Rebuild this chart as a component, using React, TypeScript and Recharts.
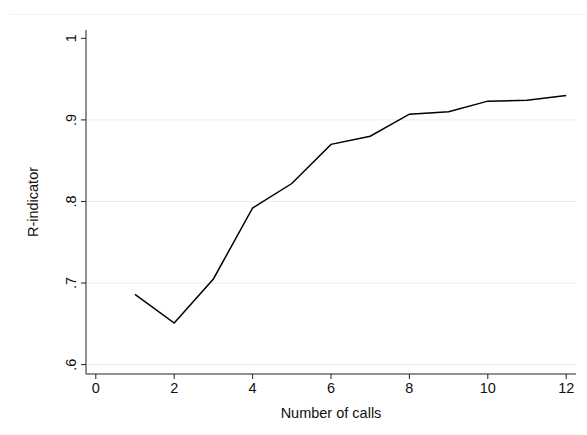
import { LineChart, Line, XAxis, YAxis, ReferenceLine } from "recharts";

const calls = [1, 2, 3, 4, 5, 6, 7, 8, 9, 10, 11, 12];
const rIndicator = [0.686, 0.651, 0.705, 0.792, 0.822, 0.87, 0.88, 0.907, 0.91, 0.923, 0.924, 0.93];
const xTicks = [0, 2, 4, 6, 8, 10, 12];
const yTicks = [0.6, 0.7, 0.8, 0.9, 1];
const gridValues = [0.6, 0.7, 0.8, 0.9];

const data = calls.map((c, i) => ({ calls: c, r: rIndicator[i] }));

const font = "'Liberation Sans', Arial, sans-serif";
const fontSize = 14.5;

function fmtY(v: any) {
	const n = Number(v);
	if (Math.abs(n - 1) < 1e-6) return "1";
	return "." + Math.round(n * 10);
}

function YTick(props: any) {
	const { x, y, payload } = props;
	return (
		<text
			x={x}
			y={y}
			transform={`rotate(-90, ${x}, ${y})`}
			textAnchor="middle"
			fontFamily={font}
			fontSize={fontSize}
			fill="#111"
		>
			{fmtY(payload.value)}
		</text>
	);
}

export default function App() {
	return (
		<div style={{ position: "absolute", left: 0, top: 0, width: 587, height: 435, background: "#fff" }}>
			<div
				style={{
					position: "absolute",
					left: 9,
					right: 0,
					top: 14,
					borderTop: "1px solid #eef3f4",
				}}
			/>
			<LineChart width={587} height={435} data={data} margin={{ top: 30, right: 11, bottom: 11, left: 0 }}>
				{gridValues.map((g) => (
					<ReferenceLine key={g} y={g} stroke="#e6eef0" strokeWidth={1} />
				))}
				<XAxis
					dataKey="calls"
					type="number"
					domain={[-0.25, 12.25]}
					ticks={xTicks}
					allowDataOverflow
					height={50}
					tickSize={5}
					tickMargin={4}
					stroke="#222"
					tick={{ fill: "#111", fontFamily: font, fontSize }}
					label={({ viewBox }: any) => (
						<text
							x={viewBox.x + viewBox.width / 2}
							y={418}
							textAnchor="middle"
							fontFamily={font}
							fontSize={fontSize}
							fill="#111"
						>
							Number of calls
						</text>
					)}
				/>
				<YAxis
					type="number"
					domain={[0.5885, 1.0102]}
					ticks={yTicks}
					allowDataOverflow
					width={86}
					tickSize={5}
					tickMargin={5}
					stroke="#222"
					tick={<YTick />}
					label={() => (
						<text
							x={38}
							y={202}
							transform={`rotate(-90, 38, 202)`}
							textAnchor="middle"
							fontFamily={font}
							fontSize={fontSize}
							fill="#111"
						>
							R-indicator
						</text>
					)}
				/>
				<Line
					type="linear"
					dataKey="r"
					stroke="#000"
					strokeWidth={1.5}
					dot={false}
					isAnimationActive={false}
				/>
			</LineChart>
		</div>
	);
}
